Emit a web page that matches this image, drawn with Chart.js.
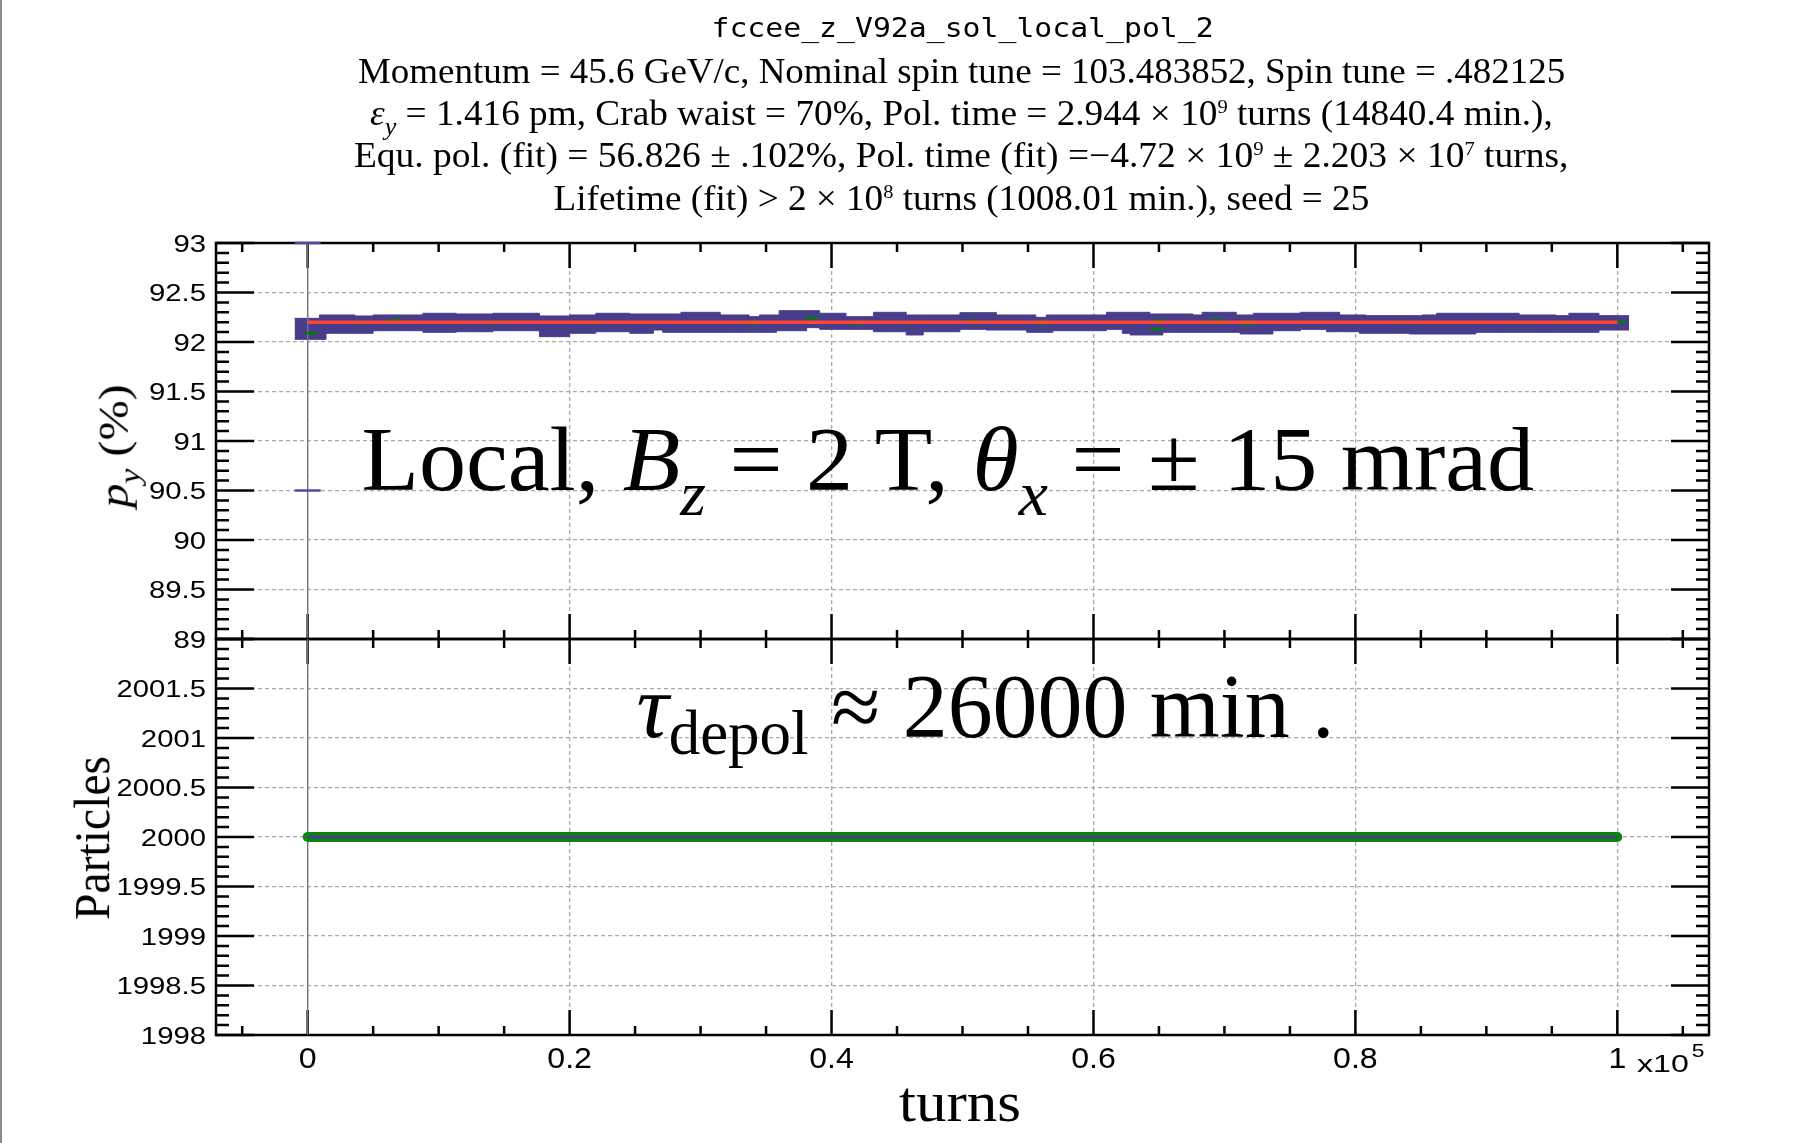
<!DOCTYPE html>
<html>
<head>
<meta charset="utf-8">
<title>fccee_z_V92a_sol_local_pol_2</title>
<script src="https://cdn.jsdelivr.net/npm/chart.js@4.4.1/dist/chart.umd.min.js"></script>
<style>
  html, body { margin: 0; padding: 0; background: #fff; }
  body { width: 1819px; height: 1143px; position: relative; overflow: hidden; }
  .edge { position: absolute; left: 0; top: 0; width: 2px; height: 1143px; background: #8c8c8c; }
  canvas { position: absolute; left: 0; top: 0; }
  .txt { position: absolute; left: 0; top: 0; white-space: nowrap; line-height: 1; color: #000;
         font-family: "Liberation Serif", "Times New Roman", serif; transform-origin: 50% 50%; z-index: 5; }
  .mono { font-family: "DejaVu Sans Mono", "Liberation Mono", monospace; }
  .dn { font-size: 0.7em; position: relative; top: 0.4em; }
  .dn2 { font-size: 0.7em; position: relative; top: 0.27em; }
  .up { font-size: 0.55em; position: relative; top: -0.65em; }
  .strut { display: inline-block; width: 0; height: 0; vertical-align: baseline; }
</style>
</head>
<body>
<div class="edge"></div>
<canvas id="polChart" width="1819" height="1143"></canvas>
<canvas id="partChart" width="1819" height="1143"></canvas>

<div class="txt mono" data-x="962" data-y="37" data-w="502" style="font-size:27px">fccee_z_V92a_sol_local_pol_2</div>
<div class="txt" data-x="961" data-y="83" data-w="1207" style="font-size:35px">Momentum = 45.6 GeV/c, Nominal spin tune = 103.483852, Spin tune = .482125</div>
<div class="txt" data-x="961" data-y="125" data-w="1183" style="font-size:35px"><i>ε</i><span class="dn"><i>y</i></span> = 1.416 pm, Crab waist = 70%, Pol. time = 2.944 × 10<span class="up">9</span> turns (14840.4 min.),</div>
<div class="txt" data-x="961" data-y="167" data-w="1214" style="font-size:35px">Equ. pol. (fit) = 56.826 ± .102%, Pol. time (fit) =−4.72 × 10<span class="up">9</span> ± 2.203 × 10<span class="up">7</span> turns,</div>
<div class="txt" data-x="961" data-y="210" data-w="816" style="font-size:35px">Lifetime (fit) &gt; 2 × 10<span class="up">8</span> turns (1008.01 min.), seed = 25</div>

<div class="txt" data-x="948" data-y="490" data-w="1173" style="font-size:90px">Local, <i>B</i><span class="dn"><i>z</i></span> = 2 T, <i>θ</i><span class="dn"><i>x</i></span> = ± 15 mrad</div>
<div class="txt" data-x="985" data-y="737" data-w="698" style="font-size:90px"><i>τ</i><span class="dn2">depol</span> ≈ 26000 min .</div>

<div class="txt rot" data-x="128" data-y="446" data-w="124" style="font-size:42px"><i>p</i><span class="dn"><i>y</i></span> (%)</div>
<div class="txt rot" data-x="109" data-y="838" data-w="164" style="font-size:50px">Particles</div>
<div class="txt" data-x="960" data-y="1121" data-w="122" style="font-size:56px">turns</div>

<script>
// axis ticks
const turnsScale = 1e5;
const turnsMin = -7000;
const turnsMax = 107000;
const turnTicks = [0, 0.2, 0.4, 0.6, 0.8, 1];
const pyTicks = [89, 89.5, 90, 90.5, 91, 91.5, 92, 92.5, 93];
const particleTicks = [1998, 1998.5, 1999, 1999.5, 2000, 2000.5, 2001, 2001.5];

// spread of the tracked polarization: each step starts at bandTurns[i]
const bandTurns = [-1000, 900, 1400, 3600, 5000, 8800, 11350, 14150, 17700, 20000,
  22000, 24600, 26400, 27100, 28500, 31500, 33700, 34500, 35800, 36000,
  38100, 39100, 41100, 43200, 45700, 47000, 49800, 51800, 52600, 54900,
  55600, 56400, 56900, 61000, 62200, 62800, 64300, 65300, 67600, 68300,
  70900, 71200, 72200, 73700, 75800, 77800, 78800, 80300, 80800, 84100,
  85100, 86200, 89200, 92500, 95300, 96300, 98600, 100900];
const bandHigh = [92.239, 92.273, 92.273, 92.263, 92.273, 92.290, 92.283, 92.290, 92.263, 92.273,
  92.290, 92.283, 92.283, 92.283, 92.300, 92.273, 92.256, 92.273, 92.273, 92.316,
  92.316, 92.290, 92.256, 92.300, 92.273, 92.273, 92.296, 92.296, 92.273, 92.273,
  92.249, 92.273, 92.273, 92.300, 92.300, 92.300, 92.283, 92.283, 92.273, 92.300,
  92.273, 92.273, 92.290, 92.290, 92.300, 92.300, 92.273, 92.273, 92.266, 92.266,
  92.273, 92.290, 92.290, 92.273, 92.266, 92.290, 92.266, 92.266];
const bandLow = [92.027, 92.027, 92.088, 92.088, 92.114, 92.098, 92.104, 92.114, 92.054, 92.088,
  92.104, 92.088, 92.121, 92.098, 92.098, 92.098, 92.098, 92.098, 92.114, 92.114,
  92.145, 92.128, 92.128, 92.104, 92.071, 92.104, 92.128, 92.121, 92.121, 92.098,
  92.098, 92.098, 92.114, 92.128, 92.088, 92.071, 92.071, 92.098, 92.098, 92.098,
  92.098, 92.081, 92.081, 92.114, 92.128, 92.104, 92.104, 92.088, 92.088, 92.081,
  92.081, 92.081, 92.098, 92.098, 92.098, 92.098, 92.121, 92.121];

// individual seed points
const markTurns = [300, 4300, 6700, 14300, 21800, 34000, 38500, 41900, 45800, 50900,
  56100, 64800, 65000, 69400, 71800, 83900, 92700, 95700, 100200];
const markPol = [92.088, 92.19, 92.22, 92.19, 92.19, 92.185, 92.24, 92.185, 92.19, 92.215,
  92.185, 92.13, 92.215, 92.22, 92.18, 92.19, 92.19, 92.19, 92.20];

// fitted polarization
const fitTurns = [0, 100000];
const fitPol = [92.2, 92.2];

// error bar of the first point
const firstErrTurns = [0, 0];
const firstErrPol = [90.5, 93];

// surviving particles
const partTurns = [0, 100000];
const partCount = [2000, 2000];

const pts = (xs, ys) => xs.map((x, i) => ({ x: x, y: ys[i] }));

const bandColor = '#483d8b';
const gridColor = '#a8a8a8';

// ROOT-like frame: ticks on all four sides, labels on the left (and bottom)
const rootFrame = {
  id: 'rootFrame',
  beforeDatasetsDraw(chart, args, o) {
    const { ctx, chartArea: a } = chart;
    const x = chart.scales.x, y = chart.scales.y;
    const isMajor = (list, v) => list.some(t => Math.abs(t - v) < 1e-6);
    ctx.save();
    ctx.strokeStyle = '#000';
    ctx.lineWidth = 2.5;
    ctx.beginPath();
    const ny = Math.round((y.max - y.min) / o.yMinor);
    for (let i = 0; i <= ny; i++) {
      const v = y.min + i * o.yMinor;
      const len = isMajor(o.yMajor, v) ? 38 : 13;
      const py = y.getPixelForValue(v);
      ctx.moveTo(a.left, py); ctx.lineTo(a.left + len, py);
      ctx.moveTo(a.right, py); ctx.lineTo(a.right - len, py);
    }
    const xMajor = turnTicks.map(t => t * turnsScale);
    const i0 = Math.ceil(x.min / o.xMinor), i1 = Math.floor(x.max / o.xMinor);
    for (let i = i0; i <= i1; i++) {
      const v = i * o.xMinor;
      const len = isMajor(xMajor, v) ? 25 : 9;
      const px = x.getPixelForValue(v);
      ctx.moveTo(px, a.top); ctx.lineTo(px, a.top + len);
      ctx.moveTo(px, a.bottom); ctx.lineTo(px, a.bottom - len);
    }
    ctx.stroke();
    ctx.strokeRect(a.left, a.top, a.right - a.left, a.bottom - a.top);

    ctx.fillStyle = '#000';
    ctx.font = '24px "Liberation Sans", Arial, sans-serif';
    ctx.textAlign = 'right';
    for (const v of o.yLabels) {
      const py = y.getPixelForValue(v);
      ctx.save();
      ctx.translate(a.left - 10, py + 8.6);
      ctx.scale(1.22, 1);
      ctx.fillText(String(v), 0, 0);
      ctx.restore();
    }
    if (o.xLabels) {
      ctx.font = '30px "Liberation Sans", Arial, sans-serif';
      ctx.textAlign = 'center';
      for (const v of turnTicks) {
        ctx.save();
        ctx.translate(x.getPixelForValue(v * turnsScale), a.bottom + 33);
        ctx.scale(1.07, 1);
        ctx.fillText(String(v), 0, 0);
        ctx.restore();
      }
      // axis multiplier
      ctx.textAlign = 'left';
      ctx.font = '24px "Liberation Sans", Arial, sans-serif';
      const mw = ctx.measureText('x10').width * 1.34;
      ctx.save();
      ctx.translate(a.right - 72, a.bottom + 37);
      ctx.scale(1.34, 1);
      ctx.fillText('x10', 0, 0);
      ctx.restore();
      ctx.font = '19px "Liberation Sans", Arial, sans-serif';
      ctx.save();
      ctx.translate(a.right - 72 + mw + 3, a.bottom + 22);
      ctx.scale(1.2, 1);
      ctx.fillText('5', 0, 0);
      ctx.restore();
    }
    ctx.restore();
  }
};

function panel(id, datasets, yMin, yMax, yGrid, pad, frame) {
  return new Chart(document.getElementById(id), {
    type: 'line',
    data: { datasets: datasets },
    options: {
      responsive: false,
      animation: false,
      layout: { padding: pad },
      elements: { point: { radius: 0 } },
      plugins: { legend: { display: false }, tooltip: { enabled: false }, rootFrame: frame },
      scales: {
        x: {
          type: 'linear', min: turnsMin, max: turnsMax,
          afterBuildTicks: s => { s.ticks = turnTicks.map(t => ({ value: t * turnsScale })); },
          afterFit: s => { s.height = 0; },
          ticks: { display: false },
          grid: { color: gridColor, lineWidth: 1.3, drawTicks: false },
          border: { display: false, dash: [4, 3] }
        },
        y: {
          type: 'linear', min: yMin, max: yMax,
          afterBuildTicks: s => { s.ticks = yGrid.map(v => ({ value: v })); },
          afterFit: s => { s.width = 0; },
          ticks: { display: false },
          grid: { color: gridColor, lineWidth: 1.3, drawTicks: false },
          border: { display: false, dash: [4, 3] }
        }
      }
    },
    plugins: [rootFrame]
  });
}

// upper panel: vertical polarization
panel('polChart', [
  { data: pts(fitTurns, fitPol), borderColor: 'rgb(250,72,52)', borderWidth: 3.5, fill: false },
  { data: pts(markTurns, markPol), showLine: false, pointStyle: 'line', pointRadius: 6,
    pointBorderWidth: 2.5, pointBorderColor: 'rgb(0,128,0)' },
  { data: pts(firstErrTurns, firstErrPol), showLine: false, pointStyle: 'line', pointRadius: 13,
    pointBorderWidth: 2.5, pointBorderColor: '#54499e', clip: false },
  { data: pts(firstErrTurns, [89, 93]), borderColor: '#777', borderWidth: 1.4, fill: false },
  { data: pts(bandTurns, bandLow), stepped: 'before', borderColor: bandColor, borderWidth: 1, fill: false },
  { data: pts(bandTurns, bandHigh), stepped: 'before', borderColor: bandColor, borderWidth: 1,
    backgroundColor: bandColor, fill: '-1' }
], 89, 93, pyTicks, { left: 216, right: 110, top: 243, bottom: 504 },
  { yMinor: 0.1, yMajor: pyTicks, xMinor: 5000, yLabels: pyTicks, xLabels: false });

// lower panel: particle count
panel('partChart', [
  { data: pts(partTurns, partCount), borderColor: bandColor, borderWidth: 3, fill: false },
  { data: pts(partTurns, partCount), borderColor: 'rgb(10,135,10)', borderWidth: 10,
    borderCapStyle: 'round', fill: false },
  { data: pts(firstErrTurns, [1998, 2002]), borderColor: '#777', borderWidth: 1.4, fill: false }
], 1998, 2002, particleTicks, { left: 216, right: 110, top: 639, bottom: 108 },
  { yMinor: 0.1, yMajor: particleTicks.concat([2002]), xMinor: 5000, yLabels: particleTicks, xLabels: true });

// put each text block on its baseline and stretch it to its width
function placeText() {
  for (const el of document.querySelectorAll('.txt')) {
    const strut = document.createElement('span');
    strut.className = 'strut';
    el.appendChild(strut);
    const w = el.offsetWidth, h = el.offsetHeight;
    const base = strut.offsetTop;
    const k = el.dataset.w ? el.dataset.w / w : 1;
    const x = +el.dataset.x, y = +el.dataset.y;
    if (el.classList.contains('rot')) {
      el.style.left = (x - (base - h / 2) - w / 2) + 'px';
      el.style.top = (y - h / 2) + 'px';
      el.style.transform = 'rotate(-90deg) scaleX(' + k + ')';
    } else {
      el.style.left = (x - w / 2) + 'px';
      el.style.top = (y - base) + 'px';
      el.style.transform = 'scaleX(' + k + ')';
    }
  }
}
placeText();
</script>
</body>
</html>
